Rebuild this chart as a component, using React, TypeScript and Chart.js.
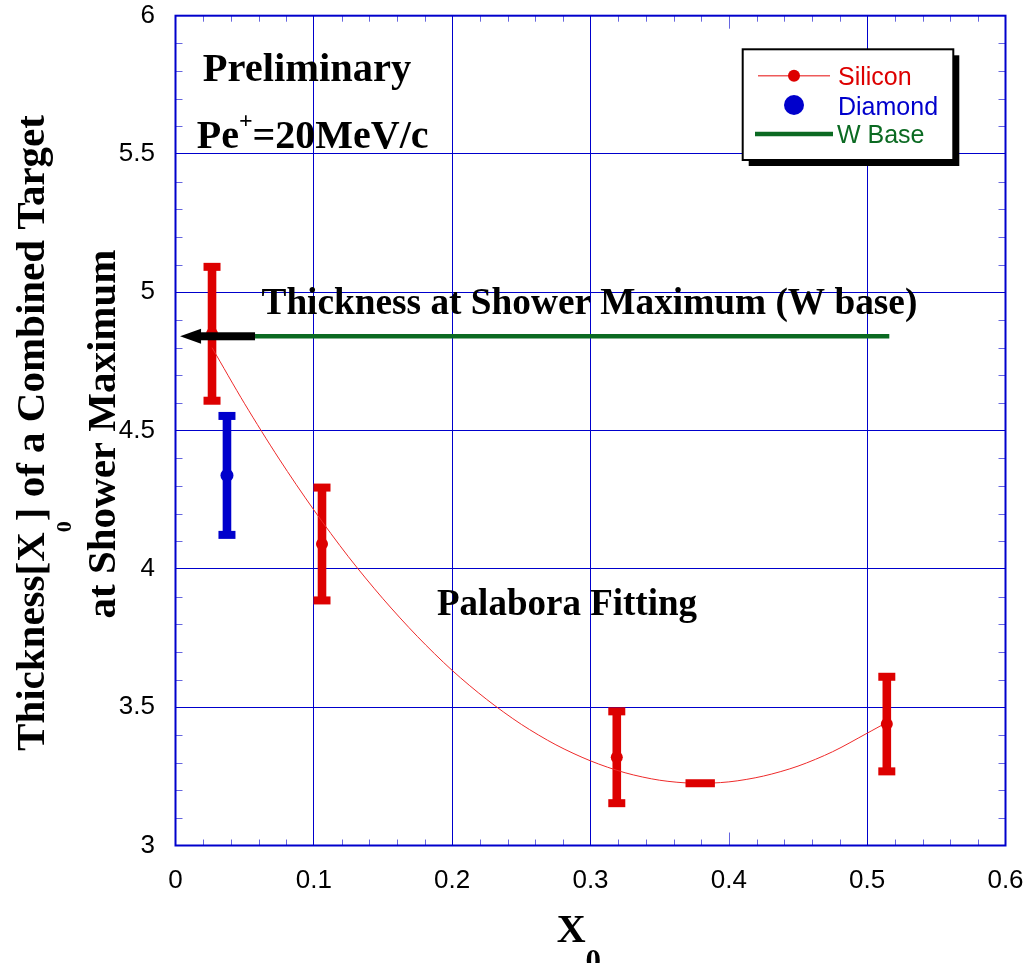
import React, { useEffect, useRef } from 'react';
import { Chart, registerables } from 'chart.js';

Chart.register(...registerables);

// ---------- data ----------
const xTickValues = [0, 0.1, 0.2, 0.3, 0.4, 0.5, 0.6];
const xTickLabels = ['0', '0.1', '0.2', '0.3', '0.4', '0.5', '0.6'];
const yTickValues = [3, 3.5, 4, 4.5, 5, 5.5, 6];
const yTickLabels = ['3', '3.5', '4', '4.5', '5', '5.5', '6'];

const siliconX = [0.0264, 0.1059, 0.319, 0.5142];
const siliconY = [4.85, 4.09, 3.319, 3.439];
const siliconErr = [0.242, 0.204, 0.166, 0.171];

const siliconMinX = [0.3793];
const siliconMinY = [3.225];

const diamondX = [0.0372];
const diamondY = [4.338];
const diamondErr = [0.215];

const fitX = [0.0264, 0.05, 0.075, 0.1, 0.125, 0.15, 0.175, 0.2, 0.225, 0.25, 0.275, 0.3, 0.325, 0.35, 0.375, 0.4, 0.425, 0.45, 0.475, 0.5, 0.5142];
const fitY = [4.80, 4.597, 4.397, 4.213, 4.044, 3.892, 3.755, 3.633, 3.528, 3.438, 3.364, 3.306, 3.263, 3.236, 3.225, 3.230, 3.251, 3.287, 3.339, 3.406, 3.445];

const wBaseX = [0.0575, 0.516];
const wBaseY = [4.841, 4.841];

const arrowX = [0.0575, 0.0033]; // tail, tip
const arrowY = [4.841, 4.841];

const legendNames = ['Silicon', 'Diamond', 'W Base'];
const annotationTexts = ['Preliminary', 'Thickness at Shower Maximum (W base)', 'Palabora Fitting'];
const yTitleLine1 = ['Thickness[X', '0', '] of a Combined Target'];
const yTitleLine2 = 'at Shower Maximum';
const xTitle = ['X', '0'];
const momentumText = ['Pe', '+', '=20MeV/c'];

// ---------- styles ----------
const RED = '#dd0000';
const BLUE = '#0000cc';
const GREEN = '#0b6a22';
const AXIS = '#0000cc';
const SERIF = '"Liberation Serif", "Times New Roman", serif';
const SANS = '"Liberation Sans", Arial, sans-serif';

type Seg = { t: string; font: string; dy?: number };

function segWidth(ctx: CanvasRenderingContext2D, segs: Seg[]) {
  let w = 0;
  for (const s of segs) {
    ctx.font = s.font;
    w += ctx.measureText(s.t).width;
  }
  return w;
}

function drawSegs(ctx: CanvasRenderingContext2D, segs: Seg[], x: number, y: number) {
  let cx = x;
  ctx.textAlign = 'left';
  ctx.textBaseline = 'alphabetic';
  for (const s of segs) {
    ctx.font = s.font;
    ctx.fillText(s.t, cx, y + (s.dy || 0));
    cx += ctx.measureText(s.t).width;
  }
}

const decorPlugin = {
  id: 'decor',
  beforeDatasetsDraw(chart: any) {
    const ctx: CanvasRenderingContext2D = chart.ctx;
    const xs = chart.scales.x;
    const ys = chart.scales.y;
    const sets = [
      { xv: siliconX, yv: siliconY, ev: siliconErr, color: RED },
      { xv: diamondX, yv: diamondY, ev: diamondErr, color: BLUE },
    ];
    ctx.save();
    for (const s of sets) {
      ctx.fillStyle = s.color;
      for (let i = 0; i < s.xv.length; i++) {
        const px = xs.getPixelForValue(s.xv[i]);
        const pTop = ys.getPixelForValue(s.yv[i] + s.ev[i]);
        const pBot = ys.getPixelForValue(s.yv[i] - s.ev[i]);
        ctx.fillRect(px - 4.3, pTop, 8.6, pBot - pTop);
        ctx.fillRect(px - 8.5, pTop - 4, 17, 8);
        ctx.fillRect(px - 8.5, pBot - 4, 17, 8);
      }
    }
    ctx.restore();
  },
  afterDatasetsDraw(chart: any) {
    const ctx: CanvasRenderingContext2D = chart.ctx;
    const xs = chart.scales.x;
    const ys = chart.scales.y;
    // arrow
    const tail = xs.getPixelForValue(arrowX[0]);
    const tip = xs.getPixelForValue(arrowX[1]);
    const py = ys.getPixelForValue(arrowY[0]);
    ctx.save();
    ctx.fillStyle = '#000';
    ctx.fillRect(tip + 19, py - 4, tail - tip - 19, 8);
    ctx.beginPath();
    ctx.moveTo(tip, py);
    ctx.lineTo(tip + 21, py - 7.5);
    ctx.lineTo(tip + 21, py + 7.5);
    ctx.closePath();
    ctx.fill();
    ctx.restore();
  },
  afterDraw(chart: any) {
    const ctx: CanvasRenderingContext2D = chart.ctx;
    const xs = chart.scales.x;
    const ys = chart.scales.y;
    const { left, right, top, bottom } = chart.chartArea;
    ctx.save();
    // minor ticks
    ctx.strokeStyle = 'rgba(0,0,204,0.6)';
    ctx.lineWidth = 1;
    ctx.beginPath();
    for (let i = 1; i < 30; i++) {
      const px = Math.round(xs.getPixelForValue(i / 50)) + 0.5;
      const len = i % 5 === 0 ? (i === 20 ? 13 : 0) : 6;
      if (len === 0) continue;
      ctx.moveTo(px, bottom);
      ctx.lineTo(px, bottom - len);
      ctx.moveTo(px, top);
      ctx.lineTo(px, top + len);
    }
    for (let i = 1; i < 30; i++) {
      if (i % 5 === 0) continue;
      const py = Math.round(ys.getPixelForValue(3 + i / 10)) + 0.5;
      ctx.moveTo(left, py);
      ctx.lineTo(left + 7, py);
      ctx.moveTo(right, py);
      ctx.lineTo(right - 7, py);
    }
    ctx.stroke();
    // frame
    ctx.strokeStyle = AXIS;
    ctx.lineWidth = 2;
    ctx.strokeRect(left, top, right - left, bottom - top);

    // annotations
    ctx.fillStyle = '#000';
    drawSegs(ctx, [{ t: annotationTexts[0], font: `bold 40.5px ${SERIF}` }], 202.7, 80.7);
    drawSegs(ctx, [
      { t: momentumText[0], font: `bold 40px ${SERIF}` },
      { t: momentumText[1], font: `bold 24px ${SERIF}`, dy: -20 },
      { t: momentumText[2], font: `bold 40px ${SERIF}` },
    ], 196.7, 148.3);
    drawSegs(ctx, [{ t: annotationTexts[1], font: `bold 37.3px ${SERIF}` }], 261.5, 314);
    drawSegs(ctx, [{ t: annotationTexts[2], font: `bold 37px ${SERIF}` }], 437, 615);

    // legend
    const bx = 742.7, by = 49.3, bw = 210.6, bh = 110.7;
    ctx.fillStyle = '#000';
    ctx.fillRect(bx + 6, by + 6, bw, bh);
    ctx.fillStyle = '#fff';
    ctx.fillRect(bx, by, bw, bh);
    ctx.strokeStyle = '#000';
    ctx.lineWidth = 2;
    ctx.strokeRect(bx, by, bw, bh);
    // silicon
    ctx.strokeStyle = '#ee5a5a';
    ctx.lineWidth = 1.5;
    ctx.beginPath();
    ctx.moveTo(758, 75.7);
    ctx.lineTo(830, 75.7);
    ctx.stroke();
    ctx.fillStyle = RED;
    ctx.beginPath();
    ctx.arc(794, 75.7, 6, 0, Math.PI * 2);
    ctx.fill();
    // diamond
    ctx.fillStyle = BLUE;
    ctx.beginPath();
    ctx.arc(794, 105, 10, 0, Math.PI * 2);
    ctx.fill();
    // w base
    ctx.strokeStyle = GREEN;
    ctx.lineWidth = 4.3;
    ctx.beginPath();
    ctx.moveTo(755, 134);
    ctx.lineTo(833, 134);
    ctx.stroke();
    ctx.font = `25px ${SANS}`;
    ctx.textAlign = 'left';
    ctx.textBaseline = 'alphabetic';
    ctx.fillStyle = RED;
    ctx.fillText(legendNames[0], 838, 85);
    ctx.fillStyle = BLUE;
    ctx.fillText(legendNames[1], 838, 115);
    ctx.fillStyle = GREEN;
    ctx.fillText(legendNames[2], 837, 143);

    // y title
    ctx.fillStyle = '#000';
    const l1: Seg[] = [
      { t: yTitleLine1[0], font: `bold 41px ${SERIF}` },
      { t: yTitleLine1[1], font: `bold 22px ${SERIF}`, dy: 27 },
      { t: yTitleLine1[2], font: `bold 41px ${SERIF}` },
    ];
    const l2: Seg[] = [{ t: yTitleLine2, font: `bold 41px ${SERIF}` }];
    ctx.save();
    ctx.translate(44, 433);
    ctx.rotate(-Math.PI / 2);
    drawSegs(ctx, l1, -segWidth(ctx, l1) / 2, 0);
    ctx.restore();
    ctx.save();
    ctx.translate(115, 434);
    ctx.rotate(-Math.PI / 2);
    drawSegs(ctx, l2, -segWidth(ctx, l2) / 2, 0);
    ctx.restore();

    // x title
    drawSegs(ctx, [
      { t: xTitle[0], font: `bold 40px ${SERIF}` },
      { t: xTitle[1], font: `bold 31px ${SERIF}`, dy: 29 },
    ], 556.7, 941.7);
    ctx.restore();
  },
};

const zeroPadding = (s: any) => {
  s.paddingTop = 0;
  s.paddingBottom = 0;
  s.paddingLeft = 0;
  s.paddingRight = 0;
};

export default function App() {
  const ref = useRef<HTMLCanvasElement>(null);
  useEffect(() => {
    const canvas = ref.current;
    if (!canvas) return;
    const chart = new Chart(canvas, {
      type: 'scatter',
      data: {
        datasets: [
          {
            label: 'W Base',
            data: wBaseX.map((x, i) => ({ x, y: wBaseY[i] })),
            showLine: true,
            borderColor: GREEN,
            borderWidth: 4.5,
            pointRadius: 0,
            order: 1,
          },
          {
            label: 'Silicon',
            data: siliconX.map((x, i) => ({ x, y: siliconY[i] })),
            backgroundColor: RED,
            borderWidth: 0,
            pointRadius: 6,
            order: 2,
          },
          {
            label: 'Silicon minimum',
            data: siliconMinX.map((x, i) => ({ x, y: siliconMinY[i] })),
            pointStyle: 'line',
            pointRadius: 14.7,
            pointBorderWidth: 8,
            borderColor: RED,
            backgroundColor: RED,
            order: 2,
          },
          {
            label: 'Diamond',
            data: diamondX.map((x, i) => ({ x, y: diamondY[i] })),
            backgroundColor: BLUE,
            borderWidth: 0,
            pointRadius: 6.5,
            order: 2,
          },
          {
            label: 'Silicon fit',
            data: fitX.map((x, i) => ({ x, y: fitY[i] })),
            showLine: true,
            borderColor: '#ee2a2a',
            borderWidth: 1,
            pointRadius: 0,
            tension: 0.3,
            order: 3,
          },
        ],
      },
      options: {
        responsive: false,
        animation: false,
        devicePixelRatio: 1,
        events: [],
        layout: { autoPadding: false, padding: { left: 0, right: 23.5, top: 15.7, bottom: 0 } },
        plugins: {
          legend: { display: false },
          tooltip: { enabled: false },
        },
        scales: {
          x: {
            type: 'linear',
            min: 0,
            max: 0.6,
            afterBuildTicks: (s: any) => {
              s.ticks = xTickValues.map((v) => ({ value: v }));
            },
            afterFit: (s: any) => {
              s.height = 117.5;
              zeroPadding(s);
            },
            ticks: {
              callback: (_v: any, i: number) => xTickLabels[i],
              font: { family: SANS, size: 26, lineHeight: 1 },
              color: '#000',
              padding: 22,
              maxRotation: 0,
              autoSkip: false,
            },
            grid: {
              color: xTickValues.map((v) => (Math.abs(v - 0.4) < 1e-9 ? 'rgba(0,0,0,0)' : AXIS)),
              lineWidth: 1,
              drawTicks: false,
            },
            border: { display: false },
          },
          y: {
            type: 'linear',
            min: 3,
            max: 6,
            afterBuildTicks: (s: any) => {
              s.ticks = yTickValues.map((v) => ({ value: v }));
            },
            afterFit: (s: any) => {
              s.width = 175.5;
              zeroPadding(s);
            },
            ticks: {
              callback: (_v: any, i: number) => yTickLabels[i],
              font: { family: SANS, size: 26, lineHeight: 1 },
              color: '#000',
              padding: 20.5,
              autoSkip: false,
            },
            grid: {
              color: AXIS,
              lineWidth: 1,
              drawTicks: false,
            },
            border: { display: false },
          },
        },
      },
      plugins: [decorPlugin],
    } as any);
    return () => chart.destroy();
  }, []);
  return (
    <div style={{ position: 'absolute', left: 0, top: 0, width: 1029, height: 963, background: '#fff' }}>
      <canvas ref={ref} width={1029} height={963} style={{ width: 1029, height: 963, display: 'block' }} />
    </div>
  );
}
